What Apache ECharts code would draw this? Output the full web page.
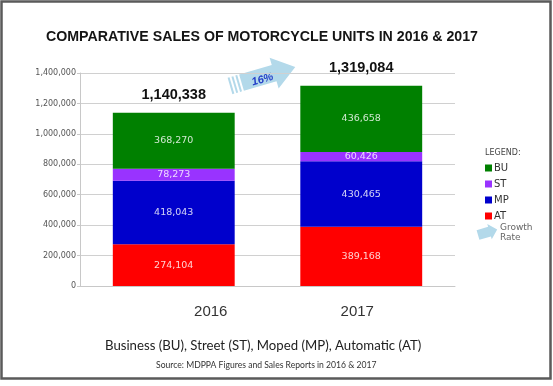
<!DOCTYPE html>
<html>
<head>
<meta charset="utf-8">
<script src="https://cdn.jsdelivr.net/npm/echarts@6/dist/echarts.min.js"></script>
<style>
html,body{margin:0;padding:0;background:#fff;}
#c{width:553px;height:386px;}
</style>
</head>
<body>
<div id="c"></div>
<script>
// ---- data ----
const years = ['2016', '2017'];
const atValues = [274104, 389168];
const mpValues = [418043, 430465];
const stValues = [78273, 60426];
const buValues = [368270, 436658];
const totals = [1140338, 1319084];
const growthText = '16%';
const yTicks = [0, 200000, 400000, 600000, 800000, 1000000, 1200000, 1400000];

// ---- styling ----
const labelShift = {'2016': 37, '2017': -4};
const fmt = v => Number(v).toLocaleString('en-US');
const inLabel = {show: true, position: 'inside', color: 'rgba(255,255,255,0.82)', fontSize: 9.5, fontFamily: 'DejaVu Sans', formatter: p => fmt(p.value)};

function arrowPts(bodyH, headH, bodyStart, headStart, tip) {
  return [[bodyStart,-bodyH],[headStart,-bodyH],[headStart,-headH],[tip,0],[headStart,headH],[headStart,bodyH],[bodyStart,bodyH]];
}
const rot = 0.285;

const chart = echarts.init(document.getElementById('c'), null, {renderer: 'canvas'});
chart.setOption({
  animation: false,
  backgroundColor: '#fff',
  title: {
    text: 'COMPARATIVE SALES OF MOTORCYCLE UNITS IN 2016 & 2017',
    left: 46, top: 30, padding: 0,
    textStyle: {fontFamily: 'Liberation Sans', fontWeight: 'bold', fontSize: 14.2, color: '#151515'}
  },
  grid: {left: 80, right: 98, top: 73, bottom: 100, containLabel: false},
  legend: {
    data: ['BU', 'ST', 'MP', 'AT'],
    orient: 'vertical', left: 485, top: 163, padding: 0,
    itemWidth: 7, itemHeight: 7, itemGap: 6, icon: 'rect',
    textStyle: {fontFamily: 'DejaVu Sans', fontSize: 10, color: '#333', lineHeight: 10, padding: [0,0,0,-3]}
  },
  xAxis: {
    type: 'category', data: years,
    axisTick: {show: false},
    axisLine: {lineStyle: {color: '#c8c8c8'}},
    axisLabel: {
      margin: 18, fontFamily: 'Liberation Sans', fontSize: 15, color: '#333',
      formatter: v => (labelShift[v] >= 0 ? '{r|' : '{l|') + v + '}',
      rich: {
        r: {fontFamily: 'Liberation Sans', fontSize: 15, color: '#333', padding: [0,0,0,74]},
        l: {fontFamily: 'Liberation Sans', fontSize: 15, color: '#333', padding: [0,8,0,0]}
      }
    }
  },
  yAxis: {
    type: 'value', min: yTicks[0], max: yTicks[yTicks.length-1], interval: yTicks[1]-yTicks[0],
    axisLine: {show: true, lineStyle: {color: '#c8c8c8'}},
    axisTick: {show: true, length: 3, lineStyle: {color: '#c8c8c8'}},
    splitLine: {lineStyle: {color: '#d0d0d0'}},
    axisLabel: {margin: 4, fontFamily: 'DejaVu Sans', fontSize: 8, color: '#555', formatter: v => fmt(v)}
  },
  series: [
    {name: 'AT', type: 'bar', stack: 's', data: atValues, barCategoryGap: '35%', itemStyle: {color: '#ff0000'}, label: inLabel},
    {name: 'MP', type: 'bar', stack: 's', data: mpValues, itemStyle: {color: '#0000cc'}, label: inLabel},
    {name: 'ST', type: 'bar', stack: 's', data: stValues, itemStyle: {color: '#9933ff'}, label: inLabel},
    {name: 'BU', type: 'bar', stack: 's', data: buValues, itemStyle: {color: '#008000'}, label: inLabel},
    {name: 'Total', type: 'scatter', data: totals, symbolSize: 0, silent: true, itemStyle: {opacity: 0},
     label: {show: true, position: 'top', distance: 10, fontFamily: 'Liberation Sans', fontWeight: 'bold', fontSize: 14.5, color: '#111', opacity: 1, formatter: p => fmt(p.value)}}
  ],
  graphic: [
    {type: 'rect', shape: {x: 1.5, y: 1.5, width: 549, height: 377}, style: {fill: 'none', stroke: '#5a5a5a', lineWidth: 2.5}, silent: true},
    // growth arrow
    {type: 'group', x: 230, y: 86, rotation: rot, children: [
      {type: 'polygon', shape: {points: arrowPts(8.5, 16, 12, 46, 68)}, style: {fill: '#b3d9ea'}},
      {type: 'rect', shape: {x: 0, y: -8.5, width: 2, height: 17}, style: {fill: '#b3d9ea'}},
      {type: 'rect', shape: {x: 4, y: -8.5, width: 2, height: 17}, style: {fill: '#b3d9ea'}},
      {type: 'rect', shape: {x: 8, y: -8.5, width: 2, height: 17}, style: {fill: '#b3d9ea'}},
      {type: 'text', x: 33, y: 3, style: {text: growthText, fill: '#2540c8', font: 'italic bold 11px "Liberation Sans"', textAlign: 'center', textVerticalAlign: 'middle'}}
    ]},
    {type: 'text', left: 485, top: 149, style: {text: 'LEGEND:', fill: '#444', font: '8px "DejaVu Sans"'}},
    {type: 'group', x: 478, y: 235, rotation: rot, children: [
      {type: 'polygon', shape: {points: arrowPts(5, 8, 0, 12, 20)}, style: {fill: '#b3d9ea'}}
    ]},
    {type: 'text', left: 500, top: 223, style: {text: 'Growth\nRate', fill: '#666', font: '9px "DejaVu Sans"', lineHeight: 10}},
    {type: 'text', left: 105, top: 339, style: {text: 'Business (BU), Street (ST), Moped (MP), Automatic (AT)', fill: '#222', font: '13.2px Lato'}},
    {type: 'text', left: 156, top: 361, style: {text: 'Source: MDPPA Figures and Sales Reports in 2016 & 2017', fill: '#333', font: '8.6px Lato'}}
  ]
});
</script>
</body>
</html>
